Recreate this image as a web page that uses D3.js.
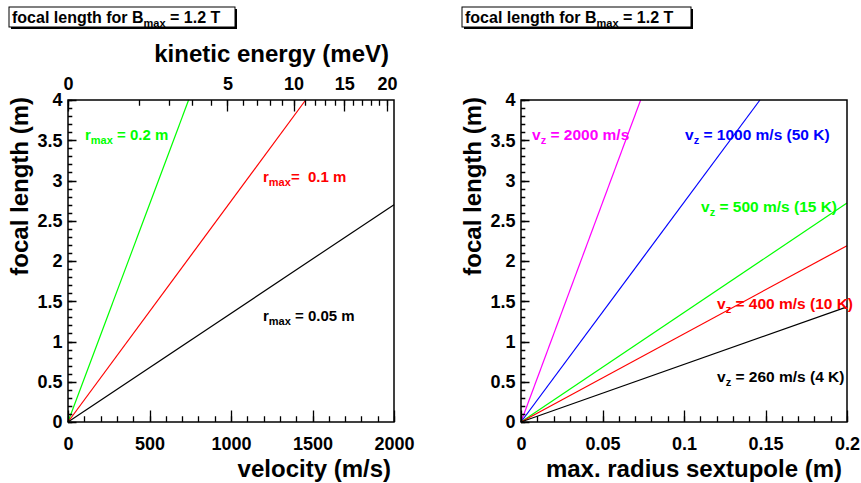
<!DOCTYPE html>
<html>
<head>
<meta charset="utf-8">
<script src="https://cdn.jsdelivr.net/npm/d3@7"></script>
<style>
  body { margin: 0; background: #fff; }
  text { font-family: "Liberation Sans", Arial, sans-serif; font-weight: bold; white-space: pre; }
</style>
</head>
<body>
<script>
var width = 861;
var height = 483;

// left panel: focal length vs velocity, one line per r_max
var rmaxLabels = ["0.2", "0.1", "0.05"];
var rmaxColors = ["#00ff00", "#ff0000", "#000000"];
var leftVel = [[0, 740], [0, 1458], [0, 2000]];
var leftFocal = [[0, 4], [0, 4], [0, 2.7]];

// right panel: focal length vs max radius, one line per v_z
var vzLabels = ["2000 m/s", "1000 m/s (50 K)", "500 m/s (15 K)", "400 m/s (10 K)", "260 m/s (4 K)"];
var vzColors = ["#ff00ff", "#0000ff", "#00ff00", "#ff0000", "#000000"];
var rightRadius = [[0, 0.0734], [0, 0.1466], [0, 0.2], [0, 0.2], [0, 0.2]];
var rightFocal = [[0, 4], [0, 4], [0, 2.72], [0, 2.19], [0, 1.43]];

// tick values
var focalMajor = [0, 0.5, 1, 1.5, 2, 2.5, 3, 3.5, 4];
var focalMinor = d3.range(0, 4.01, 0.1);
var velMajor = [0, 500, 1000, 1500, 2000];
var velMinor = d3.range(0, 2001, 100);
var radMajor = [0, 0.05, 0.1, 0.15, 0.2];
var radMinor = d3.range(0, 0.2001, 0.01);
var energyMajor = [0, 5, 10, 15, 20];
var energyMinor = d3.range(0, 21, 1);

// hydrogen atom: E = m v^2 / 2, in meV
var massH = 1.6735e-27;
var eCharge = 1.602e-19;
var eMax = 0.5 * massH * 2000 * 2000 / eCharge * 1000;

var svg = d3.select("body").append("svg")
  .attr("width", width)
  .attr("height", height);

var plotTop = 100, plotBottom = 422;

var yScale = d3.scaleLinear().domain([0, 4]).range([plotBottom, plotTop]);
var xVel = d3.scaleLinear().domain([0, 2000]).range([68, 394]);
var xEnergy = d3.scaleSqrt().domain([0, eMax]).range([68, 394]);
var xRad = d3.scaleLinear().domain([0, 0.2]).range([521, 847]);

function fmt(d) { return d3.format("~g")(d); }

function styleTicks(g) {
  g.selectAll(".domain").remove();
  g.selectAll(".tick line").remove();
  g.selectAll(".tick text")
    .attr("fill", "#000")
    .attr("font-size", 18)
    .attr("font-family", "Liberation Sans, Arial, sans-serif")
    .attr("font-weight", "bold");
}

// tick marks pointing into the frame, one path per tick set
var tickLayer = [];
function xTicks(scale, values, y0, len) {
  var d = values.map(function (v) {
    var x = Math.round(scale(v)) + 0.5;
    return "M" + x + "," + y0 + "V" + (y0 + len);
  }).join("");
  tickLayer.push(d);
}
function yTicks(values, x0, len) {
  var d = values.map(function (v) {
    var y = Math.round(yScale(v)) + 0.5;
    return "M" + x0 + "," + y + "H" + (x0 + len);
  }).join("");
  tickLayer.push(d);
}

function titleBox(x, w) {
  var g = svg.append("g");
  g.append("rect").attr("x", x + 2).attr("y", 9).attr("width", w).attr("height", 20).attr("fill", "#000");
  g.append("rect").attr("x", x).attr("y", 7).attr("width", w).attr("height", 20)
    .attr("fill", "#fff").attr("stroke", "#000").attr("stroke-width", 1);
  var t = g.append("text").attr("x", x + 3).attr("y", 23).attr("font-size", 16);
  t.append("tspan").text("focal length for B");
  t.append("tspan").attr("font-size", 11).attr("dy", 4).text("max");
  t.append("tspan").attr("dy", -4).text(" = 1.2 T");
}

function panel(xScale, xMajor, xMinor, ox) {
  var g = svg.append("g");
  g.append("g")
    .attr("transform", "translate(0," + plotBottom + ")")
    .call(d3.axisBottom(xScale).tickValues(xMajor).tickSize(0).tickPadding(15).tickFormat(fmt));
  g.append("g")
    .attr("transform", "translate(" + ox + ",0)")
    .call(d3.axisLeft(yScale).tickValues(focalMajor).tickSize(0).tickPadding(5.5).tickFormat(fmt));
  styleTicks(g);
  xTicks(xScale, xMinor, plotBottom, -5.7);
  xTicks(xScale, xMajor, plotBottom, -11.5);
  yTicks(focalMinor, ox, 4.3);
  yTicks(focalMajor, ox, 8.5);
}

function frame(x0, x1) {
  svg.append("rect")
    .attr("x", x0).attr("y", plotTop)
    .attr("width", x1 - x0).attr("height", plotBottom - plotTop)
    .attr("fill", "none").attr("stroke", "#000").attr("stroke-width", 1.5);
}

function yTitle(x) {
  svg.append("text")
    .attr("transform", "translate(" + x + ",97) rotate(-90)")
    .attr("text-anchor", "end")
    .attr("font-size", 24)
    .text("focal length (m)");
}

var line = d3.line();

// ---------- left panel ----------
titleBox(9, 226);
panel(xVel, velMajor, velMinor, 68);

// top energy axis
var topAxis = svg.append("g").attr("transform", "translate(0," + plotTop + ")");
topAxis.append("g")
  .call(d3.axisTop(xEnergy).tickValues(energyMajor).tickSize(0).tickPadding(10.5).tickFormat(fmt));
styleTicks(topAxis);
xTicks(xEnergy, energyMinor, plotTop, 5.7);
xTicks(xEnergy, energyMajor, plotTop, 11.5);

leftVel.forEach(function (vs, i) {
  var pts = vs.map(function (v, j) { return [xVel(v), yScale(leftFocal[i][j])]; });
  svg.append("path").attr("d", line(pts))
    .attr("fill", "none").attr("stroke", rmaxColors[i]).attr("stroke-width", 1.2);
});
frame(68, 394);

var leftLabelPos = [[85, 140], [263, 182], [263, 321]];
rmaxLabels.forEach(function (r, i) {
  var t = svg.append("text")
    .attr("x", leftLabelPos[i][0]).attr("y", leftLabelPos[i][1])
    .attr("font-size", 15).attr("fill", rmaxColors[i]);
  t.append("tspan").text("r");
  t.append("tspan").attr("font-size", 11).attr("dy", 4).text("max");
  t.append("tspan").attr("dy", -4).text((i == 1 ? "=  " : " = ") + r + " m");
});

svg.append("text").attr("x", 389).attr("y", 62).attr("text-anchor", "end")
  .attr("font-size", 24).text("kinetic energy (meV)");
svg.append("text").attr("x", 391).attr("y", 477).attr("text-anchor", "end")
  .attr("font-size", 24).text("velocity (m/s)");
yTitle(28);

// ---------- right panel ----------
titleBox(462, 229);
panel(xRad, radMajor, radMinor, 521);

rightRadius.forEach(function (rs, i) {
  var pts = rs.map(function (r, j) { return [xRad(r), yScale(rightFocal[i][j])]; });
  svg.append("path").attr("d", line(pts))
    .attr("fill", "none").attr("stroke", vzColors[i]).attr("stroke-width", 1.2);
});
frame(521, 847);

var rightLabelPos = [[532, 140], [685, 140], [701, 212], [717, 309], [717, 382]];
vzLabels.forEach(function (v, i) {
  var t = svg.append("text")
    .attr("x", rightLabelPos[i][0]).attr("y", rightLabelPos[i][1])
    .attr("font-size", 15.5).attr("fill", vzColors[i]);
  t.append("tspan").text("v");
  t.append("tspan").attr("font-size", 11).attr("dy", 4).text("z");
  t.append("tspan").attr("dy", -4).text(" = " + v);
});

svg.append("text").attr("x", 842).attr("y", 477).attr("text-anchor", "end")
  .attr("font-size", 24).text("max. radius sextupole (m)");
yTitle(481);

// all tick marks, drawn on top
svg.append("g").selectAll("path").data(tickLayer).join("path")
  .attr("d", function (d) { return d; })
  .attr("fill", "none")
  .attr("stroke", "#000")
  .attr("stroke-width", 1.3);
</script>
</body>
</html>
